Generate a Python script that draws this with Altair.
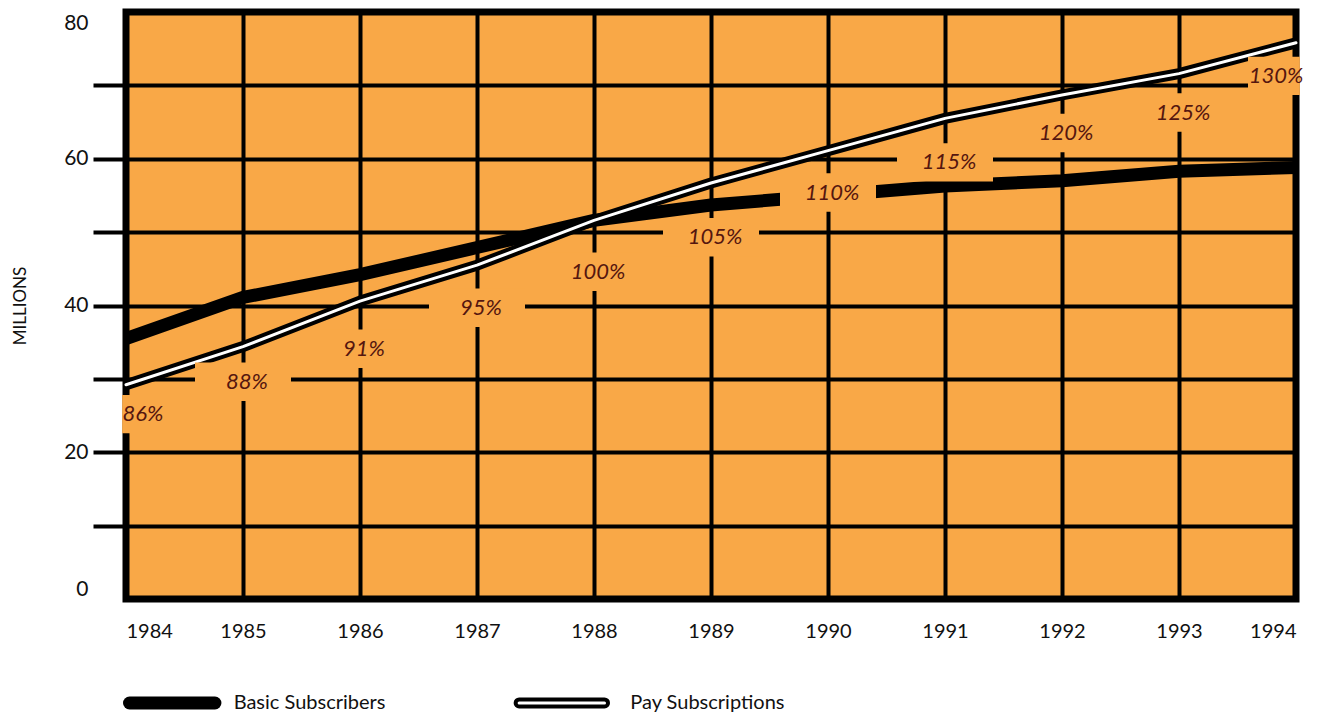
import altair as alt
import pandas as pd

# ---- data ----
years = [1984, 1985, 1986, 1987, 1988, 1989, 1990, 1991, 1992, 1993, 1994]
basic_subscribers = [35.5, 41.1, 44.2, 47.9, 51.6, 53.7, 55.0, 56.3, 57.0, 58.3, 58.8]
pay_subscriptions = [29.2, 34.4, 40.6, 45.5, 51.6, 56.7, 61.1, 65.5, 68.7, 71.6, 75.8]
pct_text = ["86%", "88%", "91%", "95%", "100%", "105%", "110%", "115%", "120%", "125%", "130%"]
pct_value = [25.2, 29.6, 34.1, 39.7, 44.6, 49.3, 55.4, 59.5, 63.5, 66.3, 71.3]
legend_names = ["Basic Subscribers", "Pay Subscriptions"]
y_ticks = [0, 10, 20, 30, 40, 50, 60, 70, 80]

# ---- styles ----
ORANGE = "#F9A847"
INK = "#111111"
LABEL_RED = "#55160f"
FONT = "Lato"

# legend placement (in data units of the shared scales)
LEG_Y = -14.17
LEG_BASIC_X = [1984.03, 1984.76]
LEG_PAY_X = [1987.36, 1988.09]
LEG_TEXT_X = [1984.92, 1988.31]

lines_df = pd.DataFrame({"year": years, "basic": basic_subscribers, "pay": pay_subscriptions})
pct_df = pd.DataFrame({"year": years, "value": pct_value, "label": pct_text})

xscale = alt.Scale(domain=[1984, 1994], nice=False, zero=False)
yscale = alt.Scale(domain=[0, 80], nice=False, zero=True)

x_axis = alt.Axis(
    values=years, format="d", labelFlush=True, ticks=False, tickSize=0, domain=False,
    grid=True, gridColor="black", gridWidth=4, gridOpacity=1,
    labelFont=FONT, labelFontSize=20, labelColor=INK, labelPadding=22,
    labelOverlap=False, title=None,
)
y_axis = alt.Axis(
    values=y_ticks, labelExpr="datum.value % 20 == 0 ? datum.label : ''",
    labelFlush=True, domain=False, tickSize=33, tickWidth=4, tickColor="black",
    tickOpacity={"condition": {"test": "datum.value == 0 || datum.value == 80", "value": 0}, "value": 1},
    grid=True, gridColor="black", gridWidth=4, gridOpacity=1,
    labelFont=FONT, labelFontSize=21, labelColor=INK, labelPadding=5, labelOverlap=False,
    title="MILLIONS", titleFont=FONT, titleFontSize=17, titleFontWeight="normal",
    titleColor=INK, titlePadding=34,
)


def X(field="year"):
    return alt.X(f"{field}:Q", scale=xscale, axis=x_axis)


def Y(field):
    return alt.Y(f"{field}:Q", scale=yscale, axis=y_axis)


basic_line = alt.Chart(lines_df).mark_line(
    color="black", strokeWidth=13, strokeCap="butt", strokeJoin="round"
).encode(x=X(), y=Y("basic"))
pay_outer = alt.Chart(lines_df).mark_line(
    color="black", strokeWidth=11, strokeCap="butt", strokeJoin="round"
).encode(x=X(), y=Y("pay"))
pay_inner = alt.Chart(lines_df).mark_line(
    color="white", strokeWidth=3, strokeCap="round", strokeJoin="round"
).encode(x=X(), y=Y("pay"))

BOX_SIZE = 9216
box_mid = alt.Chart(pct_df).transform_filter("datum.year > 1984 && datum.year < 1994").mark_point(
    shape="M-1,-0.4H1V0.4H-1Z", size=BOX_SIZE, filled=True, fill=ORANGE, strokeWidth=0, opacity=1
).encode(x=X(), y=Y("value"))
box_left = alt.Chart(pct_df).transform_filter("datum.year == 1984").mark_point(
    shape="M-0.08,-0.4H1V0.4H-0.08Z", size=BOX_SIZE, filled=True, fill=ORANGE, strokeWidth=0, opacity=1
).encode(x=X(), y=Y("value"))
box_right = alt.Chart(pct_df).transform_filter("datum.year == 1994").mark_point(
    shape="M-1,-0.4H0.08V0.4H-1Z", size=BOX_SIZE, filled=True, fill=ORANGE, strokeWidth=0, opacity=1
).encode(x=X(), y=Y("value"))


def pct_text_layer(flt, dx):
    return alt.Chart(pct_df).transform_filter(flt).mark_text(
        font=FONT, fontSize=22, fontStyle="italic", color=LABEL_RED,
        align="center", baseline="middle", dx=dx
    ).encode(x=X(), y=Y("value"), text="label:N")


txt_mid = pct_text_layer("datum.year > 1984 && datum.year < 1994", 4)
txt_left = pct_text_layer("datum.year == 1984", 17)
txt_right = pct_text_layer("datum.year == 1994", -20)

# ---- legend ----
leg_basic_df = pd.DataFrame({"year": LEG_BASIC_X, "v": [LEG_Y, LEG_Y]})
leg_pay_df = pd.DataFrame({"year": LEG_PAY_X, "v": [LEG_Y, LEG_Y]})
leg_text_df = pd.DataFrame({"year": LEG_TEXT_X, "v": [LEG_Y, LEG_Y], "name": legend_names})

leg_basic = alt.Chart(leg_basic_df).mark_line(color="black", strokeWidth=13, strokeCap="round").encode(x=X(), y=Y("v"))
leg_pay_o = alt.Chart(leg_pay_df).mark_line(color="black", strokeWidth=11, strokeCap="round").encode(x=X(), y=Y("v"))
leg_pay_i = alt.Chart(leg_pay_df).mark_line(color="white", strokeWidth=3, strokeCap="round").encode(x=X(), y=Y("v"))
leg_text = alt.Chart(leg_text_df).mark_text(
    font=FONT, fontSize=20, color=INK, align="left", baseline="middle"
).encode(x=X(), y=Y("v"), text="name:N")

chart = alt.layer(
    basic_line, pay_outer, pay_inner,
    box_mid, box_left, box_right,
    txt_mid, txt_left, txt_right,
    leg_basic, leg_pay_o, leg_pay_i, leg_text,
).properties(
    width=1170, height=587,
    autosize=alt.AutoSizeParams(type="none"),
    padding={"left": 118, "top": 4, "right": 14, "bottom": 120},
    background="white",
).configure_view(fill=ORANGE, stroke="black", strokeWidth=7)

chart.save("out.html", embed_options={"renderer": "svg", "actions": False})
